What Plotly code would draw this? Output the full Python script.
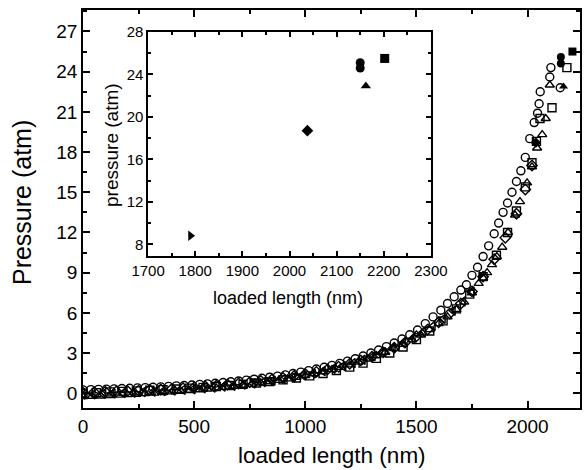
import plotly.graph_objects as go

# ---- main plot data (loaded length nm, pressure atm) ----
circ_x = [0, 35, 70, 105, 140, 175, 210, 245, 280, 315, 350, 385, 420, 455, 490, 525, 560, 595, 630, 665,
          700, 735, 770, 805, 840, 875, 910, 945, 980, 1015, 1050, 1085, 1120, 1155, 1190, 1225, 1260, 1295,
          1330, 1365, 1400, 1435, 1470, 1505, 1540, 1575, 1610, 1640, 1670, 1700, 1725, 1750, 1775, 1800,
          1825, 1850, 1870, 1890, 1910, 1930, 1950, 1970, 1990, 2010, 2030, 2045, 2052, 2057, 2100, 2105, 2147]
circ_y = [0.25, 0.27, 0.29, 0.31, 0.33, 0.35, 0.37, 0.40, 0.42, 0.45, 0.48, 0.51, 0.55, 0.58, 0.62, 0.66,
          0.70, 0.75, 0.80, 0.86, 0.92, 0.98, 1.05, 1.12, 1.20, 1.28, 1.37, 1.47, 1.58, 1.69, 1.81, 1.94,
          2.08, 2.23, 2.40, 2.58, 2.78, 3.00, 3.23, 3.48, 3.75, 4.05, 4.37, 4.72, 5.2, 5.7, 6.2, 6.7, 7.2,
          7.7, 8.1, 8.8, 9.4, 10.2, 11.0, 11.9, 12.7, 13.5, 14.2, 15.0, 15.8, 16.6, 17.6, 19.0, 20.2, 20.9,
          21.6, 22.5, 23.6, 24.3, 22.8]

tri_x = [0, 40, 80, 120, 160, 200, 240, 280, 320, 360, 400, 440, 480, 520, 560, 600, 640, 680, 720, 760,
         800, 840, 880, 920, 960, 1000, 1040, 1080, 1120, 1160, 1200, 1240, 1280, 1320, 1360, 1400, 1440,
         1480, 1520, 1560, 1600, 1640, 1680, 1715, 1750, 1780, 1800, 1818, 1840, 1862, 1886, 1912, 1944,
         1966, 1998, 2020, 2043, 2066, 2082, 2100]
tri_y = [-0.25, -0.22, -0.20, -0.17, -0.14, -0.10, -0.07, -0.03, 0.01, 0.05, 0.10, 0.15, 0.20, 0.26, 0.32,
         0.38, 0.45, 0.52, 0.60, 0.68, 0.77, 0.86, 0.96, 1.07, 1.19, 1.32, 1.46, 1.60, 1.76, 1.93, 2.12,
         2.33, 2.56, 2.80, 3.06, 3.34, 3.65, 3.98, 4.35, 4.75, 5.2, 5.7, 6.25, 6.8, 7.5, 8.2, 8.6, 9.0, 9.6,
         10.2, 10.9, 12.0, 13.3, 14.3, 15.7, 16.9, 18.3, 19.3, 20.5, 23.0]

sq_x = [0, 60, 120, 180, 240, 300, 360, 420, 480, 540, 600, 660, 720, 780, 840, 900, 960, 1020, 1080, 1140,
        1200, 1260, 1320, 1380, 1440, 1500, 1560, 1620, 1680, 1740, 1800, 1860, 1910, 1950, 1990, 2020,
        2040, 2056, 2110, 2177]
sq_y = [0.0, 0.05, 0.10, 0.14, 0.18, 0.22, 0.27, 0.32, 0.38, 0.44, 0.50, 0.58, 0.66, 0.76, 0.87, 1.0, 1.14,
        1.3, 1.48, 1.7, 1.95, 2.25, 2.6, 3.0, 3.45, 4.0, 4.65, 5.4, 6.3, 7.4, 8.7, 10.3, 12.0, 13.6, 15.4,
        17.2, 18.8, 20.5, 21.3, 24.3]

ltri_x = [0, 45, 90, 135, 180, 225, 270, 315, 360, 405, 450, 495, 540, 585, 630, 675, 720, 765, 810, 855,
          900, 945, 990, 1035, 1080, 1125, 1170, 1215, 1260, 1305, 1350, 1395, 1440, 1485, 1530, 1575, 1620,
          1665, 1710, 1750]
ltri_y = [-0.1, -0.08, -0.05, -0.02, 0.01, 0.04, 0.08, 0.12, 0.16, 0.2, 0.25, 0.3, 0.36, 0.42, 0.49, 0.56,
          0.64, 0.73, 0.83, 0.94, 1.06, 1.19, 1.33, 1.48, 1.65, 1.83, 2.03, 2.25, 2.5, 2.77, 3.06, 3.38,
          3.73, 4.12, 4.55, 5.02, 5.55, 6.15, 6.85, 7.6]

dia_x = [0, 50, 100, 150, 200, 250, 300, 350, 400, 450, 500, 550, 600, 650, 700, 750, 800, 850, 900, 950,
         1000, 1050, 1100, 1150, 1200, 1250, 1300, 1350, 1400, 1450, 1500, 1550, 1600, 1650, 1700, 1750,
         1800, 1850, 1900, 1950, 1990, 2020]
dia_y = [0.05, 0.08, 0.11, 0.14, 0.17, 0.2, 0.24, 0.28, 0.33, 0.38, 0.44, 0.5, 0.57, 0.65, 0.73, 0.82,
         0.92, 1.03, 1.15, 1.29, 1.44, 1.6, 1.78, 1.98, 2.2, 2.45, 2.73, 3.05, 3.4, 3.8, 4.25, 4.75, 5.3,
         5.95, 6.7, 7.6, 8.7, 10.0, 11.6, 13.4, 15.2, 17.0]

# filled end points (shown in both main plot and inset)
end_x = [1790, 2038, 2150, 2150, 2162, 2202]
end_y = [8.8, 18.7, 25.1, 24.6, 22.9, 25.5]
end_sym = ["triangle-right", "diamond", "circle", "circle", "triangle-up", "square"]

fig = go.Figure()

def open_trace(x, y, sym):
    fig.add_trace(go.Scatter(x=x, y=y, mode="markers", xaxis="x", yaxis="y",
                             marker=dict(symbol=sym, size=8, color="black", line=dict(width=1.4, color="black")),
                             showlegend=False))

open_trace(ltri_x, ltri_y, "triangle-left-open")
open_trace(dia_x, dia_y, "diamond-open")
open_trace(sq_x, sq_y, "square-open")
open_trace(tri_x, tri_y, "triangle-up-open")
open_trace(circ_x, circ_y, "circle-open")

fig.add_trace(go.Scatter(x=end_x, y=end_y, mode="markers", xaxis="x", yaxis="y",
                         marker=dict(symbol=end_sym, size=8, color="black"), showlegend=False))
fig.add_trace(go.Scatter(x=end_x, y=end_y, mode="markers", xaxis="x2", yaxis="y2",
                         marker=dict(symbol=end_sym, size=9, color="black"), showlegend=False))

FONT = "Liberation Sans, Arial, sans-serif"
axis_common = dict(showline=True, linecolor="black", linewidth=1.5, mirror="ticks", ticks="inside",
                   tickcolor="black", tickwidth=1.5, showgrid=False, zeroline=False)

fig.update_layout(
    width=584, height=470,
    margin=dict(l=83, r=4, t=10, b=62, autoexpand=False),
    paper_bgcolor="white", plot_bgcolor="white",
    font=dict(family=FONT, color="black"),
    xaxis=dict(range=[0, 2236], tickvals=[0, 500, 1000, 1500, 2000], ticklen=7,
               tickfont=dict(size=19), domain=[0, 1],
               minor=dict(tickvals=[250, 750, 1250, 1750], ticklen=4, ticks="inside", tickcolor="black", tickwidth=1.5),
               **axis_common),
    yaxis=dict(range=[-1.1, 28.6], tickvals=list(range(0, 28, 3)), ticklen=7,
               tickfont=dict(size=19), domain=[0, 1],
               minor=dict(tickvals=[1.5 + 3 * i for i in range(10)], ticklen=4, ticks="inside", tickcolor="black", tickwidth=1.5),
               **axis_common),
    xaxis2=dict(range=[1700, 2300], tickvals=[1700, 1800, 1900, 2000, 2100, 2200, 2300], ticklen=5,
                tickfont=dict(size=15), domain=[0.131, 0.700], anchor="y2",
                minor=dict(tickvals=[1750, 1850, 1950, 2050, 2150, 2250], ticklen=3, ticks="inside", tickcolor="black", tickwidth=1.5),
                **axis_common),
    yaxis2=dict(range=[6.9, 28], tickvals=[8, 12, 16, 20, 24, 28], ticklen=5,
                tickfont=dict(size=15), domain=[0.382, 0.945], anchor="x2",
                minor=dict(tickvals=[10, 14, 18, 22, 26], ticklen=3, ticks="inside", tickcolor="black", tickwidth=1.5),
                **axis_common),
    shapes=[dict(type="rect", xref="x2 domain", yref="y2 domain", x0=0, x1=1, y0=0, y1=1,
                 fillcolor="white", line=dict(width=0), layer="below")],
    annotations=[
        dict(text="Pressure (atm)", xref="paper", yref="paper", x=-0.1227, y=0.515, textangle=-90,
             showarrow=False, font=dict(size=25), xanchor="center", yanchor="middle"),
        dict(text="loaded length (nm)", xref="paper", yref="paper", x=0.5, y=-0.12,
             showarrow=False, font=dict(size=22.5), xanchor="center", yanchor="middle"),
        dict(text="pressure (atm)", xref="paper", yref="paper", x=0.0584, y=0.661, textangle=-90,
             showarrow=False, font=dict(size=19), xanchor="center", yanchor="middle"),
        dict(text="loaded length (nm)", xref="paper", yref="paper", x=0.4125, y=0.276,
             showarrow=False, font=dict(size=18), xanchor="center", yanchor="middle"),
    ],
)

fig.write_html("out.html", post_script="document.body.style.margin='0';",
               config={"displayModeBar": False})
